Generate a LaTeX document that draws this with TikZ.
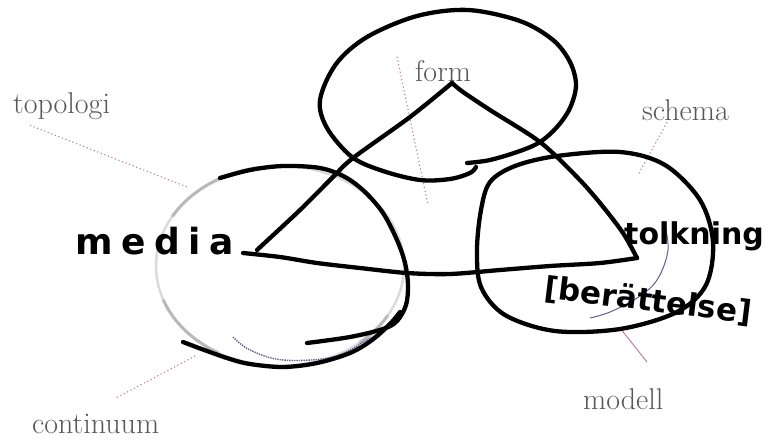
\documentclass[tikz,border=0pt]{standalone}
\usepackage{fontspec}
\newfontfamily\handwide{DejaVu Sans}[LetterSpace=24]
\newfontfamily\hand{DejaVu Sans}
\definecolor{lblgray}{RGB}{88,88,88}
\definecolor{pinkish}{RGB}{200,120,160}
\definecolor{magline}{RGB}{170,80,130}
\definecolor{slate}{RGB}{95,95,150}
\begin{document}
\begin{tikzpicture}[x=1pt,y=-1pt,
  ink/.style={line width=4.3pt, line cap=round, line join=round, draw=black},
  lbl/.style={inner sep=0pt, anchor=base west, text=lblgray, font=\fontsize{30}{36}\selectfont},
  hw/.style={inner sep=0pt, anchor=base west, text=black},
  pinkdot/.style={line width=1.1pt, dash pattern=on 1.2pt off 2.6pt, draw=pinkish},
  ghost/.style={line width=2.5pt, draw=gray!28},
  ghostdark/.style={line width=3pt, draw=gray!55, line cap=round},
]
\useasboundingbox (0,0) rectangle (776,440);
\fill[white] (0,0) rectangle (776,440);

% named points
\coordinate (apex) at (452,83);
\coordinate (tip) at (637,258);
\coordinate (mend) at (243,253);
\coordinate (mlow) at (257,250);

% ghost circle of media
\draw[ghost] (280,266) ellipse [x radius=124, y radius=100];
\draw[ghostdark] plot[domain=100:150, smooth, variable=\t] ({280+124*cos(\t)},{266-100*sin(\t)});
\draw[ghostdark] plot[domain=200:240, smooth, variable=\t] ({280+124*cos(\t)},{266-100*sin(\t)});
\draw[ghostdark] plot[domain=-50:-30, smooth, variable=\t] ({280+124*cos(\t)},{266-100*sin(\t)});
\draw[slate, line width=1.4pt, densely dotted] plot[smooth, tension=0.6] coordinates {(233,337) (250,350) (283,360) (333,357) (367,340) (383,330)};

% faint blue arc in tolkning circle
\draw[slate, line width=1pt] plot[smooth, tension=0.6] coordinates {(664,222) (668,250) (657,280) (637,298) (610,312) (590,318)};

% labels and pink leader lines
\node[lbl] (topologi) at (13,113) {topologi};
\node[lbl] (form) at (415,81) {form};
\node[lbl] (schema) at (642,120) {schema};
\node[lbl] (modell) at (583,409) {modell};
\node[lbl] (continuum) at (32,433) {continuum};

\coordinate (tpC) at (187,187);
\coordinate (coC) at (197,355);
\coordinate (foC) at (428,205);
\coordinate (scC) at (638,175);
\coordinate (moC) at (620,328);

\draw[pinkdot] ([shift={(17,6)}]topologi.south west) -- (tpC);
\draw[pinkdot] ([shift={(85,-16)}]continuum.north west) -- (coC);
\draw[pinkdot] ([shift={(-18,-3)}]form.north west) -- (foC);
\draw[pinkdot] ([shift={(25,2)}]schema.south west) -- (scC);
\draw[magline, line width=0.9pt, opacity=0.8] ([shift={(64,-26)}]modell.north west) -- (moC);

% form loop
\draw[ink] plot[smooth, tension=0.55] coordinates {(467,163) (490,160) (520,151) (540,142) (557,127) (570,108) (576,85) (570,62) (553,40) (520,21) (468,10) (417,16) (367,37) (336,64) (320,100) (327,128) (352,157) (383,171) (420,180) (450,179) (470,173) (476,167)};

% tolkning ellipse
\draw[ink] plot[smooth cycle, tension=0.55] coordinates {(620,152) (665,165) (700,200) (713,242) (706,285) (677,312) (620,329) (555,331) (505,315) (481,287) (477,250) (481,210) (490,182) (515,166) (557,156)};

% media circle strokes
\draw[ink] plot[smooth, tension=0.55] coordinates {(220,178) (250,170) (283,166) (320,168) (345,177) (365,192) (383,213) (397,240) (405,263) (408,285) (406,305) (397,321) (383,329) (350,337) (307,343)};
\draw[ink] plot[smooth, tension=0.55] coordinates {(183,342) (207,351) (230,359) (250,364) (283,367) (317,363) (350,353) (372,340) (390,324) (400,312)};

% triangle of lines
\draw[ink] plot[smooth, tension=0.5] coordinates {(mlow) (300,210) (333,177) (353,158) (410,117) (apex)};
\draw[ink] plot[smooth, tension=0.5] coordinates {(apex) (463,92) (490,110) (540,142) (577,177) (600,203) (623,233) (tip)};
\draw[ink] plot[smooth, tension=0.5] coordinates {(tip) (600,263) (550,266) (500,270) (450,274) (407,273) (360,268) (317,263) (280,257) (mend)};

% handwritten words
\node[hw, font=\handwide\bfseries\fontsize{36}{40}\selectfont] (media) at (75,254) {media};
\node[hw, font=\hand\bfseries\fontsize{30}{36}\selectfont] (tolkning) at (624,244) {tolkning};
\node[hw, font=\hand\bfseries\fontsize{31}{38}\selectfont, rotate=-7] (berattelse) at (543,298) {[berättelse]};
\end{tikzpicture}
\end{document}
